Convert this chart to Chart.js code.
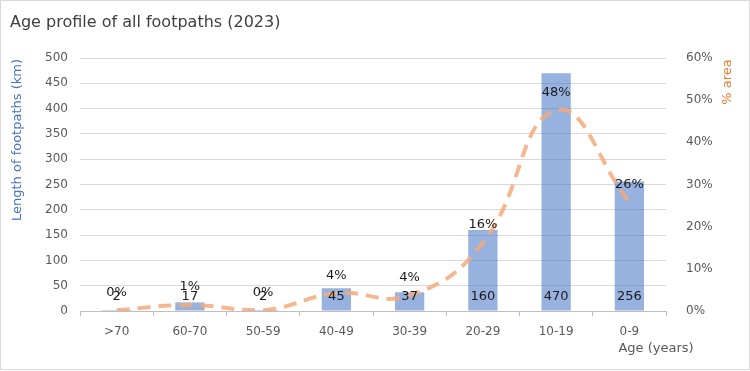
<!DOCTYPE html>
<html lang="en">
<head>
  <meta charset="UTF-8">
  <title>Age profile of all footpaths (2023)</title>
  <style>
    body {
      margin: 0;
      background-color: white;
      font-family: 'DejaVu Sans', sans-serif;
    }
    .frame {
      position: relative;
      width: 750px;
      height: 370px;
      box-sizing: border-box;
      border: 1px solid #d9d9d9;
      background-color: white;
    }
    .frame h1 {
      position: absolute;
      top: 10px;
      left: 9px;
      margin: 0;
      font-size: 16px;
      font-weight: normal;
      line-height: 22px;
      color: #404040;
    }
    canvas {
      position: absolute;
      top: 0;
      left: 0;
    }
  </style>
  <script src="https://cdn.jsdelivr.net/npm/chart.js"></script>
</head>
<body>
  <div class="frame">
    <canvas id="ageChart" width="748" height="368"></canvas>
    <h1>Age profile of all footpaths (2023)</h1>
  </div>

  <script>
    const ageGroups = ['>70', '60-70', '50-59', '40-49', '30-39', '20-29', '10-19', '0-9'];
    const lengthKm = [2, 17, 2, 45, 37, 160, 470, 256];
    const areaPct = [0.2, 1.4, 0.2, 4.2, 3.7, 16.2, 47.6, 25.8];

    const tickColor = '#595959';
    const gridColor = '#d9d9d9';

    // draws the value labels and the three axis titles
    const labelPlugin = {
      id: 'labels',
      afterDatasetsDraw(chart) {
        const ctx = chart.ctx;
        ctx.save();
        ctx.font = '13px "DejaVu Sans"';
        ctx.fillStyle = '#1a1a1a';
        ctx.textAlign = 'center';
        ctx.textBaseline = 'middle';

        chart.getDatasetMeta(0).data.forEach((bar, i) => {
          ctx.fillText(lengthKm[i], bar.x, bar.base - 14);
        });
        chart.getDatasetMeta(1).data.forEach((pt, i) => {
          ctx.fillText(Math.round(areaPct[i]) + '%', pt.x, pt.y - 18);
        });

        ctx.fillStyle = '#4472c4';
        ctx.save();
        ctx.translate(17, 139);
        ctx.rotate(-Math.PI / 2);
        ctx.fillText('Length of footpaths (km)', 0, 0);
        ctx.restore();

        ctx.fillStyle = '#ed7d31';
        ctx.save();
        ctx.translate(727, 81);
        ctx.rotate(-Math.PI / 2);
        ctx.fillText('% area', 0, 0);
        ctx.restore();

        ctx.fillStyle = tickColor;
        ctx.fillText('Age (years)', 655, 348);
        ctx.restore();
      }
    };

    const ctx = document.getElementById('ageChart').getContext('2d');
    const ageChart = new Chart(ctx, {
      data: {
        labels: ageGroups,
        datasets: [{
          type: 'bar',
          label: 'Length of footpaths (km)',
          data: lengthKm,
          yAxisID: 'y',
          backgroundColor: 'rgba(68, 114, 196, 0.55)',
          barPercentage: 0.4,
          categoryPercentage: 1,
          order: 2
        }, {
          type: 'line',
          label: '% area',
          data: areaPct,
          yAxisID: 'y1',
          borderColor: 'rgba(244, 170, 125, 0.85)',
          borderWidth: 4,
          borderDash: [13, 8],
          pointRadius: 0,
          tension: 0.45,
          fill: false,
          order: 1
        }]
      },
      options: {
        responsive: false,
        animation: false,
        layout: {
          padding: { top: 57, left: 0, right: 0, bottom: 0 }
        },
        plugins: {
          legend: { display: false },
          tooltip: { enabled: false }
        },
        scales: {
          x: {
            grid: {
              offset: true,
              drawOnChartArea: false,
              drawTicks: true,
              tickLength: 5,
              color: '#bfbfbf'
            },
            border: { color: '#bfbfbf' },
            ticks: {
              color: tickColor,
              font: { family: 'DejaVu Sans', size: 12 },
              padding: 9,
              maxRotation: 0
            },
            afterFit(scale) { scale.height = 58; }
          },
          y: {
            position: 'left',
            min: 0,
            max: 500,
            grid: { color: gridColor, drawTicks: false },
            border: { display: false },
            ticks: {
              stepSize: 50,
              color: tickColor,
              font: { family: 'DejaVu Sans', size: 12 },
              padding: 12
            },
            afterFit(scale) { scale.width = 79; }
          },
          y1: {
            position: 'right',
            min: 0,
            max: 60,
            grid: { display: false },
            border: { display: false },
            ticks: {
              stepSize: 10,
              color: tickColor,
              font: { family: 'DejaVu Sans', size: 12 },
              padding: 12,
              callback: (v) => v + '%'
            },
            afterFit(scale) { scale.width = 83; }
          }
        }
      },
      plugins: [labelPlugin]
    });
  </script>
</body>
</html>
